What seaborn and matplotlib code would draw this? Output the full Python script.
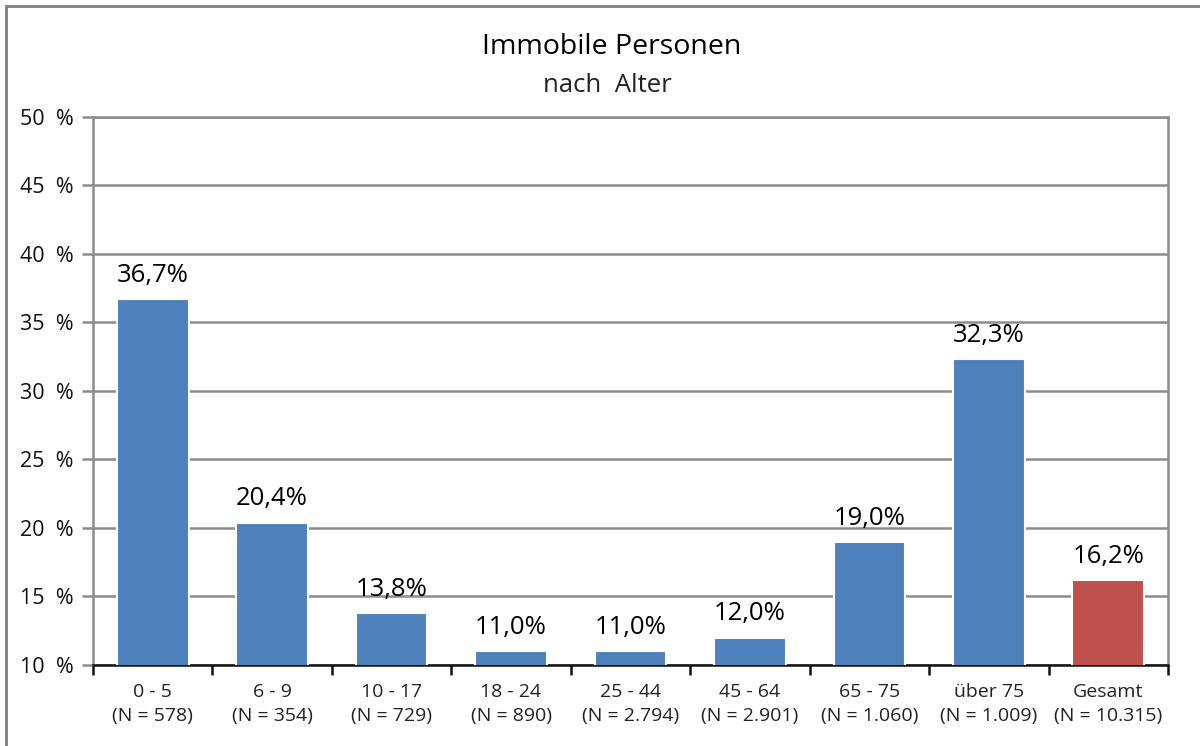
import matplotlib
matplotlib.use("Agg")
import matplotlib.pyplot as plt
import seaborn as sns
import pandas as pd
from matplotlib.patches import Rectangle

groups = ["0 - 5", "6 - 9", "10 - 17", "18 - 24", "25 - 44", "45 - 64", "65 - 75", "über 75", "Gesamt"]
counts = ["578", "354", "729", "890", "2.794", "2.901", "1.060", "1.009", "10.315"]
shares = [36.7, 20.4, 13.8, 11.0, 11.0, 12.0, 19.0, 32.3, 16.2]
yticks = [10, 15, 20, 25, 30, 35, 40, 45, 50]

blue = "#4F81BD"
red = "#C0504D"
colors = [blue] * 8 + [red]

df = pd.DataFrame({"group": groups, "share": shares})

sns.set_style("white")
plt.rcParams["font.family"] = ["Open Sans", "DejaVu Sans"]

fig = plt.figure(figsize=(12, 7.46), dpi=100)
ax = fig.add_axes([0.0775, 0.1086, 0.8958, 0.7346])

sns.barplot(
    data=df,
    x="group",
    y="share",
    hue="group",
    palette=colors,
    saturation=1,
    legend=False,
    width=0.6,
    edgecolor="white",
    linewidth=1.5,
    ax=ax,
    zorder=3
)

ax.set_ylim(10, 50)
ax.set_xlim(-0.5, len(groups) - 0.5)
ax.set_yticks(yticks)
ax.set_yticklabels([f"{t}  %" for t in yticks], fontsize=15.5, color="#111111")
ax.yaxis.grid(True, color="#8c8c8c", linewidth=1.8, zorder=0)
ax.set_axisbelow(True)

ax.set_xticks(range(len(groups)))
xl = [f"{g}\n(N = {n})" for g, n in zip(groups, counts)]
ax.set_xticklabels(xl, fontsize=14, color="#222222", linespacing=1.45)
ax.tick_params(axis="x", which="major", bottom=True, length=0, pad=13)
ax.set_xticks([i - 0.5 for i in range(len(groups) + 1)], minor=True)
ax.tick_params(axis="x", which="minor", bottom=True, length=7, width=1.8, color="#111111")
ax.tick_params(axis="y", left=True, length=8, width=1.8, color="#8c8c8c", pad=6)

ax.set_xlabel("")
ax.set_ylabel("")

for side in ["left", "right", "top"]:
    ax.spines[side].set_visible(True)
    ax.spines[side].set_color("#8c8c8c")
    ax.spines[side].set_linewidth(1.8)
ax.spines["bottom"].set_color("#111111")
ax.spines["bottom"].set_linewidth(1.8)

for cont in ax.containers:
    ax.bar_label(
        cont,
        labels=[f"{v:.1f}%".replace(".", ",") for v in cont.datavalues],
        padding=8,
        fontsize=18.5,
        fontweight="medium",
        color="#000000"
    )

fig.text(0.51, 0.937, "Immobile Personen", ha="center", va="center", fontsize=20.5, color="#000000")
fig.text(0.506, 0.886, "nach  Alter", ha="center", va="center", fontsize=18.5, color="#222222")

fig.patches.append(
    Rectangle((0.005, -0.1), 1.2, 1.092, transform=fig.transFigure,
              fill=False, edgecolor="#7f7f7f", linewidth=2)
)

fig.savefig("out.png", dpi=100)
plt.close()
